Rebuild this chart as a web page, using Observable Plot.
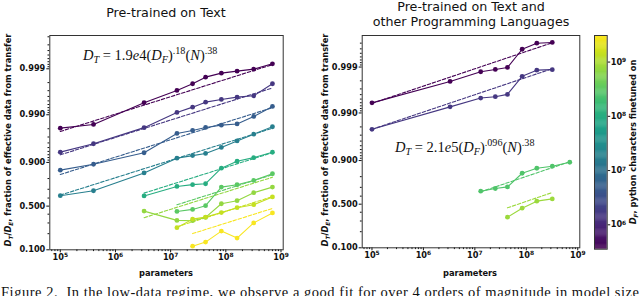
<!DOCTYPE html>
<html><head><meta charset="utf-8">
<script src="https://cdn.jsdelivr.net/npm/d3@7"></script>
<script src="https://cdn.jsdelivr.net/npm/@observablehq/plot@0.6"></script>
<style>
html,body{margin:0;padding:0;background:#fff;}
#wrap{position:relative;width:640px;height:296px;overflow:hidden;font-family:"DejaVu Sans";color:#111;}
.plot{position:absolute;top:0;}
.t{position:absolute;white-space:nowrap;transform:translate(-50%,-50%);line-height:1;}
.tl{position:absolute;white-space:nowrap;transform:translate(0,-50%);line-height:1;}
.rot{transform:translate(-50%,-50%) rotate(-90deg);}
.lab{font-size:8.3px;font-weight:bold;}
.ttl{font-size:12.7px;}
.f{font-family:"Liberation Serif";font-size:14.5px;}
sub,sup{font-size:70%;line-height:0;}
sub{vertical-align:-0.3em;}
sup{vertical-align:0.55em;}
</style></head><body><div id="wrap"></div>
<script>
// ---------- data ----------
const params = [1e5, 4e5, 3.3e6, 1.3e7, 2.5e7, 4.3e7, 8.3e7, 1.6e8, 3.2e8, 7e8];
// left panel: fine-tuning dataset size (D_F), first model index, fraction values
const leftDF = [3.55e5, 1.48e6, 4.9e6, 1.74e7, 1.0e8, 3.0e8, 7.1e8, 1.41e9, 2.82e9];
const leftStart = [0, 0, 0, 0, 2, 3, 2, 3, 4];
const leftS1 = [0.98057, 0.98382, 0.99451, 0.99704, 0.99788, 0.99848, 0.998757, 0.998874, 0.998982, 0.999222];
const leftS2 = [0.93789, 0.95836, 0.98105, 0.99109, 0.99316, 0.99467, 0.99534, 0.99585, 0.99612, 0.99788];
const leftS3 = [0.85934, 0.89157, 0.93613, 0.97477, 0.97825, 0.98122, 0.98327, 0.98422, 0.98913, 0.99339];
const leftS4 = [0.62779, 0.68432, 0.84148, 0.91782, 0.92688, 0.93403, 0.95035, 0.96370, 0.97391, 0.98188];
const leftS5 = [0.62563, 0.72913, 0.74649, 0.75511, 0.87063, 0.90521, 0.91971, 0.93762];
const leftS6 = [0.43363, 0.45865, 0.50518, 0.72223, 0.74560, 0.78444, 0.83590];
const leftS7 = [0.43758, 0.32774, 0.32420, 0.36153, 0.52987, 0.56750, 0.66256, 0.72223];
const leftS8 = [0.25222, 0.34210, 0.36526, 0.41899, 0.47987, 0.51784, 0.61369];
const leftS9 = [0.11743, 0.14066, 0.22146, 0.16667, 0.30047, 0.41563];
const leftSeries = [leftS1, leftS2, leftS3, leftS4, leftS5, leftS6, leftS7, leftS8, leftS9];
// dashed fit lines (value at first and last model size of each series)
const leftFitFrom = [0.97710, 0.92949, 0.83043, 0.63476, 0.65789, 0.51727, 0.35834, 0.26189, 0.20076];
const leftFitTo   = [0.999190, 0.997383, 0.99299, 0.98048, 0.93640, 0.82912, 0.81044, 0.61640, 0.47068];

// right panel
const rightDF = [3.55e5, 1.48e6, 2.5e8, 8.0e8];
const rightX1 = [1e5, 3.3e6, 1.3e7, 2.5e7, 4.3e7, 8.3e7, 1.6e8, 3.2e8];
const rightX3 = [1.3e7, 2.5e7, 4.3e7, 8.3e7, 1.6e8, 3.2e8, 7e8];
const rightX4 = [4.3e7, 8.3e7, 1.6e8, 3.2e8];
const rightS1 = [0.99396, 0.99794, 0.998734, 0.998874, 0.998980, 0.999592, 0.999699, 0.999710];
const rightS2 = [0.97751, 0.99262, 0.99525, 0.99557, 0.99605, 0.99841, 0.998832, 0.998861];
const rightS3 = [0.65789, 0.68780, 0.70482, 0.82617, 0.85934, 0.87115, 0.89197];
const rightS4 = [0.34210, 0.45008, 0.53792, 0.56637];
const rightXs = [rightX1, rightX1, rightX3, rightX4];
const rightSeries = [rightS1, rightS2, rightS3, rightS4];
const rightFitFrom = [0.99380, 0.97751, 0.65063, 0.45407];
const rightFitTo   = [0.999706, 0.998915, 0.89461, 0.64271];

// axes
const yTicks = [0.1, 0.5, 0.9, 0.99, 0.999];
const yTickLabels = ["0.100", "0.500", "0.900", "0.990", "0.999"];
const xTicks = [1e5, 1e6, 1e7, 1e8, 1e9];
const xTickLabels = ["10\u2075", "10\u2076", "10\u2077", "10\u2078", "10\u2079"];
const cbTicks = [1e6, 1e7, 1e8, 1e9];
const cbTickLabels = ["10\u2076", "10\u2077", "10\u2078", "10\u2079"];
const cbDomain = [3.55e5, 3.09e9];
const xDomain = [Math.pow(10, 4.81), Math.pow(10, 9.04)];

// ---------- helpers ----------
const logit = p => Math.log10(p / (1 - p));
const yMinor = [];
[0.2, 0.3, 0.4, 0.6, 0.7, 0.8].forEach(v => yMinor.push(v));
for (const s of [1e-2, 1e-3, 1e-4]) for (let k = 2; k <= 9; k++) yMinor.push(1 - k * s);
const xMinor = [];
for (let e = 4; e <= 9; e++) for (let k = 2; k <= 9; k++) { const v = k * Math.pow(10, e); if (v > xDomain[0] && v < xDomain[1]) xMinor.push(v); }
const yLab = new Map(yTicks.map((v, i) => [logit(v), yTickLabels[i]]));
const xLab = new Map(xTicks.map((v, i) => [v, xTickLabels[i]]));
const cbLab = new Map(cbTicks.map((v, i) => [v, cbTickLabels[i]]));

const leftPts = [], leftFits = [];
leftSeries.forEach((vals, s) => {
  vals.forEach((f, i) => leftPts.push({id: s, n: params[leftStart[s] + i], f, df: leftDF[s]}));
  leftFits.push({id: s, n: params[leftStart[s]], f: leftFitFrom[s], df: leftDF[s]});
  leftFits.push({id: s, n: params[leftStart[s] + vals.length - 1], f: leftFitTo[s], df: leftDF[s]});
});
const rightPts = [], rightFits = [];
rightSeries.forEach((vals, s) => {
  const xs = rightXs[s];
  vals.forEach((f, i) => rightPts.push({id: s, n: xs[i], f, df: rightDF[s]}));
  rightFits.push({id: s, n: xs[0], f: rightFitFrom[s], df: rightDF[s]});
  rightFits.push({id: s, n: xs[vals.length - 1], f: rightFitTo[s], df: rightDF[s]});
});

const style = {fontFamily: "DejaVu Sans", fontSize: "8.2px", fontWeight: "bold", color: "#111", background: "transparent", overflow: "visible"};

function panel(o) {
  const yd = o.yDomain;
  const ymin = yMinor.filter(v => logit(v) > yd[0] && logit(v) < yd[1]);
  return Plot.plot({
    width: o.width, height: 296,
    marginLeft: o.ml, marginRight: o.mr, marginTop: o.mt, marginBottom: o.mb,
    style,
    x: {type: "log", domain: xDomain},
    y: {type: "linear", domain: yd},
    color: {type: "log", scheme: "viridis", domain: cbDomain},
    marks: [
      Plot.line(o.fits, {x: "n", y: d => logit(d.f), z: "id", stroke: "df", strokeWidth: 1.1, strokeDasharray: "3.5,1.8"}),
      Plot.line(o.pts, {x: "n", y: d => logit(d.f), z: "id", stroke: "df", strokeWidth: 1.1}),
      Plot.dot(o.pts, {x: "n", y: d => logit(d.f), fill: "df", r: 2.4}),
      Plot.axisY(yTicks.map(logit), {tickSize: 3, tickPadding: 1.5, tickFormat: d => yLab.get(d), label: null}),
      Plot.axisY(ymin.map(logit), {tickSize: 1.8, tickFormat: () => "", label: null}),
      Plot.axisX(xTicks, {tickSize: 3, tickPadding: 1.5, tickFormat: d => xLab.get(d), label: null}),
      Plot.axisX(xMinor, {tickSize: 1.8, tickFormat: () => "", label: null}),
      Plot.frame({stroke: "#333", strokeWidth: 1})
    ]
  });
}

// render "10⁵"-style labels as a base with a raised, smaller exponent
const supDigits = "\u2070\u00b9\u00b2\u00b3\u2074\u2075\u2076\u2077\u2078\u2079";
function fixPowers(svg) {
  d3.select(svg).selectAll("text").each(function() {
    const s = this.textContent;
    const m = /^10(.)$/.exec(s);
    if (!m || supDigits.indexOf(m[1]) < 0) return;
    const digit = String(supDigits.indexOf(m[1]));
    const el = d3.select(this);
    el.text("10");
    el.append("tspan").attr("dy", "-0.45em").attr("font-size", "72%").text(digit);
  });
  return svg;
}

const wrap = document.getElementById("wrap");
function place(node, left) { fixPowers(node); node.classList.add("plot"); node.style.left = left + "px"; wrap.appendChild(node); }

place(panel({width: 300, ml: 49.3, mr: 17.3, mt: 35, mb: 46.7, yDomain: [logit(0.1), 3.727], pts: leftPts, fits: leftFits}), 0);
place(panel({width: 270, ml: 41.7, mr: 10.7, mt: 35, mb: 48.7, yDomain: [logit(0.1), 3.69], pts: rightPts, fits: rightFits}), 320);

// colorbar
const nStops = 200;
const l0 = Math.log10(cbDomain[0]), l1 = Math.log10(cbDomain[1]);
const stops = d3.range(nStops).map(i => ({
  a: Math.pow(10, l0 + (l1 - l0) * i / nStops),
  b: Math.pow(10, l0 + (l1 - l0) * Math.min(nStops, i + 1.3) / nStops),
  c: Math.pow(10, l0 + (l1 - l0) * (i + 0.5) / nStops)
}));
place(Plot.plot({
  width: 50, height: 296, marginLeft: 4, marginRight: 33.3, marginTop: 35, marginBottom: 47.3,
  style,
  x: {domain: [0, 1], axis: null},
  y: {type: "log", domain: cbDomain},
  color: {type: "log", scheme: "viridis", domain: cbDomain},
  marks: [
    Plot.rect(stops, {x1: 0, x2: 1, y1: "a", y2: "b", fill: "c"}),
    Plot.axisY(cbTicks, {anchor: "right", tickSize: 2.5, tickPadding: 1, tickFormat: d => cbLab.get(d), label: null}),
    Plot.frame({stroke: "#333", strokeWidth: 1})
  ]
}), 590);

// text overlays
function txt(html, x, y, cls, base) {
  const d = document.createElement("div");
  d.className = (base || "t") + " " + (cls || "");
  d.style.left = x + "px"; d.style.top = y + "px";
  d.innerHTML = html;
  wrap.appendChild(d);
}
txt("Pre-trained on Text", 166, 13, "ttl");
txt("Pre-trained on Text and", 471, 7, "ttl");
txt("other Programming Languages", 471, 22, "ttl");
txt("parameters", 166, 273, "lab");
txt("parameters", 470, 273, "lab");
const ylab = "<i>D<sub>T</sub></i>/<i>D<sub>E</sub></i>, fraction of effective data from transfer";
txt(ylab, 7.5, 140, "lab rot");
txt(ylab, 325, 140, "lab rot");
txt("<i>D<sub>F</sub></i>, python characters finetuned on", 633, 142, "lab rot");
txt("<i>D</i><sub><i>T</i></sub> = 1.9<i>e</i>4(<i>D</i><sub><i>F</i></sub>)<sup>.18</sup>(<i>N</i>)<sup>.38</sup>", 83, 55, "f", "tl");
txt("<i>D</i><sub><i>T</i></sub> = 2.1<i>e</i>5(<i>D</i><sub><i>F</i></sub>)<sup>.096</sup>(<i>N</i>)<sup>.38</sup>", 395, 147, "f", "tl");

// caption (cut off at the bottom, as in the source)
const cap = d3.create("svg").attr("width", 640).attr("height", 296)
  .style("position", "absolute").style("left", "0px").style("top", "0px");
cap.append("text").attr("x", 1).attr("y", 297).attr("textLength", 638).attr("lengthAdjust", "spacing")
  .attr("font-family", "Liberation Serif").attr("font-size", 14.5).attr("fill", "#111")
  .text("Figure 2.\u00a0\u00a0In the low-data regime, we observe a good fit for over 4 orders of magnitude in model size");
wrap.appendChild(cap.node());
</script></body></html>
